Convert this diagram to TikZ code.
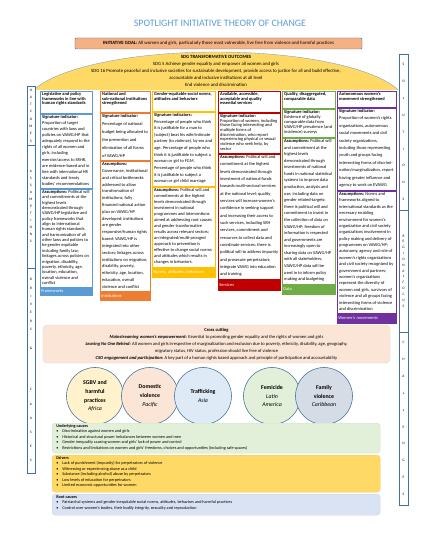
\documentclass[tikz,border=0pt]{standalone}
\usepackage{fontspec}
\setmainfont{Carlito}
\usetikzlibrary{positioning}

\definecolor{titleblue}{RGB}{91,155,213}
\definecolor{fwblue}{RGB}{91,155,213}
\definecolor{inorange}{RGB}{237,125,49}
\definecolor{nmgold}{RGB}{255,192,0}
\definecolor{svred}{RGB}{192,0,0}
\definecolor{dtgreen}{RGB}{112,173,71}
\definecolor{wmpurple}{RGB}{112,48,160}
\definecolor{goalsalmon}{RGB}{244,177,131}
\definecolor{sdgyellow}{RGB}{255,217,102}
\definecolor{edgeblue}{RGB}{65,113,156}
\definecolor{crosspeach}{RGB}{251,229,214}
\definecolor{paleyellow}{RGB}{255,242,204}
\definecolor{palepeach}{RGB}{251,229,214}
\definecolor{paleblue}{RGB}{222,235,247}
\definecolor{palegreen}{RGB}{226,240,217}
\definecolor{palegrey}{RGB}{214,220,229}
\definecolor{rootblue}{RGB}{218,227,243}

\newcommand{\celltxt}{\fontsize{6.3}{6.6}\selectfont}
\newcommand{\bul}{\makebox[3mm][l]{\textbullet}}
% box with text, corners given in pixels; [s] spreads the lines over the box
\newcommand{\cell}[8][t]{%
  \pgfmathsetmacro{\cellw}{(#6-#4)*0.5-2}%
  \pgfmathsetmacro{\cellh}{(#7-#5)*0.5-1.2}%
  \node[#3] (#2) at (#4,#5) {\parbox[t][\cellh mm][#1]{\cellw mm}{\raggedright\baselineskip=1\normalbaselineskip plus 6pt\relax #8\par\vskip0.8mm}};}

\begin{document}
\begin{tikzpicture}[x=0.5mm,y=-0.5mm,
    cellbox/.style={draw=#1, fill=white, line width=0.6pt, anchor=north west, inner xsep=1mm, inner ysep=0.6mm, font=\celltxt},
    tagbox/.style={fill=#1, draw=#1, text=white, anchor=north west, inner sep=0.6mm, font=\fontsize{6.3}{7}\selectfont, align=left},
    sidebox/.style={draw=edgeblue, fill=white, line width=0.6pt, minimum width=4mm, inner sep=0pt},
    sidetxt/.style={inner sep=0pt, align=center, font=\fontsize{5}{#1}\selectfont},
    region/.style={circle, draw=edgeblue, line width=0.8pt, fill=#1, minimum size=28.5mm, inner sep=0pt, align=center, font=\fontsize{8.3}{12.5}\selectfont},
    causebox/.style={fill=#1, draw=#1!85!gray, rounded corners=1.5mm, anchor=north west, inner xsep=2.1mm, inner ysep=0.6mm, font=\fontsize{6}{7.8}\selectfont}]
    \useasboundingbox (0,0) rectangle (437,549);

    % title and goal
    \node[text=titleblue, font=\fontsize{14}{16}\selectfont] (title) at (220,23) {SPOTLIGHT INITIATIVE THEORY OF CHANGE};
    \node[fill=goalsalmon, draw=edgeblue, line width=0.6pt, rounded corners=0.5mm, minimum width=143.5mm, minimum height=5.5mm, inner sep=0pt, font=\fontsize{6.8}{8}\selectfont] (goal) at (218.5,43.5)
        {\textbf{INITIATIVE GOAL:} All women and girls, particularly those most vulnerable, live free from violence and harmful practices};

    % SDG ellipse
    \begin{scope}
        \clip (0,0) rectangle (437,90);
        \draw[fill=sdgyellow, draw=edgeblue!70, line width=0.5pt] (216,105) ellipse [x radius=190, y radius=53];
    \end{scope}
    \node[align=center, font=\fontsize{6.8}{10.2}\selectfont] (sdg) at (216,71)
        {\textbf{SDG TRANSFORMATIVE OUTCOMES}\\
         SDG 5 Achieve gender equality and empower all women and girls\\
         SDG 16 Promote peaceful and inclusive societies for sustainable development, provide access to justice for all and build effective,\\
         accountable and inclusive institutions at all level\\
         End violence and discrimination};

    % column 1
    \cell{fwhead}{cellbox=fwblue}{40}{91}{92}{113}{\textbf{Legislative and policy frameworks in line with human rights standards}}
    \cell[s]{fwsig}{cellbox=fwblue}{40}{114}{92}{188}{\textbf{Signature indicator:}\\Proportion of target countries with laws and policies on VAWG/HP that adequately respond to the rights of all women and girls, including exercise/access to SRHR, are evidence-based and in line with international HR standards and treaty bodies' recommendations}
    \cell[s]{fwass}{cellbox=fwblue}{40}{189}{92}{287}{\textbf{Assumptions:} Political will and commitments at the highest levels demonstrated through VAWG/HP legislative and policy frameworks that align to international human rights standards and harmonization of all other laws and policies to be gender equitable including family law; linkages across policies on migration, disability, poverty, ethnicity, age, location, education, overall violence and conflict}
    \node[tagbox=fwblue, text width=24.8mm, minimum height=4mm] (fwtag) at (40,287) {Frameworks};

    % column 2
    \cell{inhead}{cellbox=inorange}{100}{91}{150}{112}{\textbf{National and sub-national institutions strengthened}}
    \cell[s]{insig}{cellbox=inorange}{100}{113}{150}{160}{\textbf{Signature indicator:}\\Percentage of national budget being allocated to the prevention and elimination of all forms of VAWG/HP}
    \cell[s]{inass}{cellbox=inorange}{100}{161}{150}{291}{\textbf{Assumptions:}\\Governance, institutional and critical bottlenecks addressed to allow transformation of institutions; fully financed national action plan on VAWG/HP developed; institutions are gender responsive/human rights based; VAWG/HP is integrated into other sectors; linkages across institutions on migration, disability, poverty, ethnicity, age, location, education, overall violence and conflict}
    \node[tagbox=inorange, text width=23.8mm, minimum height=4.5mm] (intag) at (100,291) {Institutions};

    % column 3
    \cell{nmhead}{cellbox=nmgold}{152}{91}{215}{111}{\textbf{Gender-equitable social norms, attitudes and behaviors}}
    \cell[s]{nmsig}{cellbox=nmgold}{152}{112}{215}{186}{\textbf{Signature indicators:}\\Percentage of people who think it is justifiable for a man to (subject) beat his wife/intimate partner (to violence), by sex and age. Percentage of people who think it is justifiable to subject a woman or girl to FGM. Percentage of people who think it is justifiable to subject a woman or girl child marriage}
    \cell[s]{nmass}{cellbox=nmgold}{152}{187}{215}{267}{\textbf{Assumptions:} Political will and commitments at the highest levels demonstrated through investment in national programmes and interventions aimed at addressing root causes and gender transformative results across relevant sectors; an integrated/multi-pronged approach to prevention is effective to change social norms and attitudes which results in changes in behaviors.}
    \node[tagbox=nmgold, text width=30.3mm, minimum height=5mm] (nmtag) at (152,267) {Norms, attitudes, behaviors};

    % column 4
    \cell{svhead}{cellbox=svred}{218}{91}{280}{112}{\textbf{Available, accessible, acceptable and quality essential services}}
    \cell[s]{svsig}{cellbox=svred}{218}{113}{280}{153}{\textbf{Signature indicator:}\\Proportion of women, including those facing intersecting and multiple forms of discrimination, who report experiencing physical or sexual violence who seek help, by sector}
    \cell[s]{svass}{cellbox=svred}{218}{154}{280}{279}{\textbf{Assumptions:} Political will and commitment at the highest levels demonstrated through investment of national funds towards multi-sectoral services at the national level; quality services will increase women's confidence in seeking support and increasing their access to such services, including SRH services, commitment and resources to collect data and coordinate services; there is political will to address impunity and prosecute perpetrators; integrate VAWG into education and training}
    \node[tagbox=svred, text width=29.8mm, minimum height=5.5mm] (svtag) at (218,279) {Services};

    % column 5
    \cell{dthead}{cellbox=dtgreen}{282}{91}{335}{108}{\textbf{Quality, disaggregated, comparable data}}
    \cell[s]{dtsig}{cellbox=dtgreen}{282}{109}{335}{137}{\textbf{Signature indicator:}\\Existence of globally comparable data from VAWG/HP prevalence (and incidence) surveys}
    \cell[s]{dtass}{cellbox=dtgreen}{282}{138}{335}{284}{\textbf{Assumptions:} Political will and commitment at the highest levels demonstrated through investments of national funds in national statistical systems to improve data production, analysis and use, including data on gender related-targets; there is political will and commitment to invest in the collection of data on VAWG/HP; freedom of information is respected and governments are increasingly open to sharing data on VAWG/HP with all stakeholders; VAWG/HP data will be used in to inform policy making and budgeting}
    \node[tagbox=dtgreen, text width=25.3mm, minimum height=5mm] (dttag) at (282,284) {Data};

    % column 6
    \cell{wmhead}{cellbox=wmpurple}{337}{91}{396}{107}{\textbf{Autonomous women's movement strengthened}}
    \cell[s]{wmsig}{cellbox=wmpurple}{337}{108}{396}{190}{\textbf{Signature indicator:}\\Proportion of women's rights organizations, autonomous social movements and civil society organizations, including those representing youth and groups facing intersecting forms of discrimination/marginalization, report having greater influence and agency to work on EVAWG}
    \cell[s]{wmass}{cellbox=wmpurple}{337}{191}{396}{313}{\textbf{Assumptions:} Norms and frameworks aligned to international standards as the necessary enabling environment for women's organization and civil society organizations involvement in policy making and delivery of programmes on VAWG/HP; autonomy, agency and role of women's rights organizations and civil society recognized by government and partners; women's organizations represent the diversity of women and girls, survivors of violence and all groups facing intersecting forms of violence and discrimination}
    \node[tagbox=wmpurple, text width=28.3mm, minimum height=5mm] (wmtag) at (337,313) {Women's movements};

    % cross cutting
    \node[fill=crosspeach, draw=crosspeach!80!gray, rounded corners=2mm, minimum width=173.5mm, minimum height=19mm, align=center, font=\fontsize{6.5}{10}\selectfont] (cross) at (216.5,344)
        {\textbf{Cross cutting}\\
         \textbf{\textit{Mainstreaming women's empowerment:}} Essential to promoting gender equality and the rights of women and girls\\
         \textbf{\textit{Leaving No One Behind:}} All women and girls irrespective of marginalization and exclusion due to poverty, ethnicity, disability, age, geography,\\
         migratory status, HIV status, profession should live free of violence\\
         \textbf{\textit{CSO engagement and participation:}} A key part of a human rights based approach and principle of participation and accountability};

    % regional focus
    \node[region=paleyellow] (africa) at (95,396) {\textbf{SGBV and}\\\textbf{harmful}\\\textbf{practices}\\\textit{Africa}};
    \node[region=palepeach] (pacific) at (150,396) {\textbf{Domestic}\\\textbf{violence}\\\textit{Pacific}};
    \node[region=paleblue] (asia) at (203,396) {\textbf{Trafficking}\\\textit{Asia}};
    \node[region=palegreen] (latam) at (272,396) {\textbf{Femicide}\\\textit{Latin}\\\textit{America}};
    \node[region=palegrey] (carib) at (324,396) {\textbf{Family}\\\textbf{violence}\\\textit{Caribbean}};

    % causes
    \cell{under}{causebox=palegreen}{52}{423}{375.6}{453}{\textbf{Underlying causes}\\
        \bul Discrimination against women and girls\\
        \bul Historical and structural power imbalances between women and men\\
        \bul Gender inequality causing women and girls' lack of power and control\\
        \bul Restrictions and limitations on women and girls' freedoms, choices and opportunities (including safe spaces)}
    \cell{drive}{causebox=sdgyellow}{52}{455}{375.6}{492}{\textbf{Drivers}\\
        \bul Lack of punishment (impunity) for perpetrators of violence\\
        \bul Witnessing or experiencing abuse as a child\\
        \bul Substance (including alcohol) abuse by perpetrators\\
        \bul Low levels of education for perpetrators\\
        \bul Limited economic opportunities for women}
    \cell{root}{causebox=rootblue}{52}{494}{375.6}{515}{\textbf{Root causes}\\
        \bul Patriarchal systems and gender inequitable social norms, attitudes, behaviors and harmful practices\\
        \bul Control over women's bodies, their bodily integrity, sexuality and reproduction}

    % side bars
    \node[sidebox, minimum height=29.5mm] (outc) at (31,115.5) {};
    \node[sidetxt=10.4pt] (outctxt) at (outc) {O\\U\\T\\C\\O\\M\\E\\S};
    \node[sidebox, minimum height=61.5mm] (assum) at (31,206.5) {};
    \node[sidetxt=10pt] (assumtxt) at (assum) {A\\S\\S\\U\\M\\P\\T\\I\\O\\N\\S};
    \node[sidebox, minimum height=102.5mm] (drcau) at (31,370.5) {};
    \node[sidetxt=11.7pt] (drvtxt) at (31,304.5) {D\\R\\I\\V\\E\\R\\S};
    \node[sidetxt=10pt] (amptxt) at (31,348) {\&};
    \node[sidetxt=20pt] (caustxt) at (31,425) {C\\A\\U\\S\\E\\S};
    \node[sidebox, minimum height=78mm, minimum width=4.5mm] (solu) at (403.5,132) {};
    \node[sidetxt=24pt] (solutxt) at (solu) {S\\O\\L\\U\\T\\I\\O\\N\\S};
    \node[sidebox, minimum height=61mm, minimum width=4.5mm] (regf) at (403.5,271) {};
    \node[sidetxt=8.3pt] (regftxt) at (regf) {R\\E\\G\\I\\O\\N\\A\\L\\F\\O\\C\\U\\S};
    \node[sidebox, minimum height=86.5mm, minimum width=4.5mm] (chal) at (403.5,418.5) {};
    \node[sidetxt=24pt] (chaltxt) at (chal) {C\\H\\A\\L\\L\\E\\N\\G\\E\\S};
\end{tikzpicture}
\end{document}
